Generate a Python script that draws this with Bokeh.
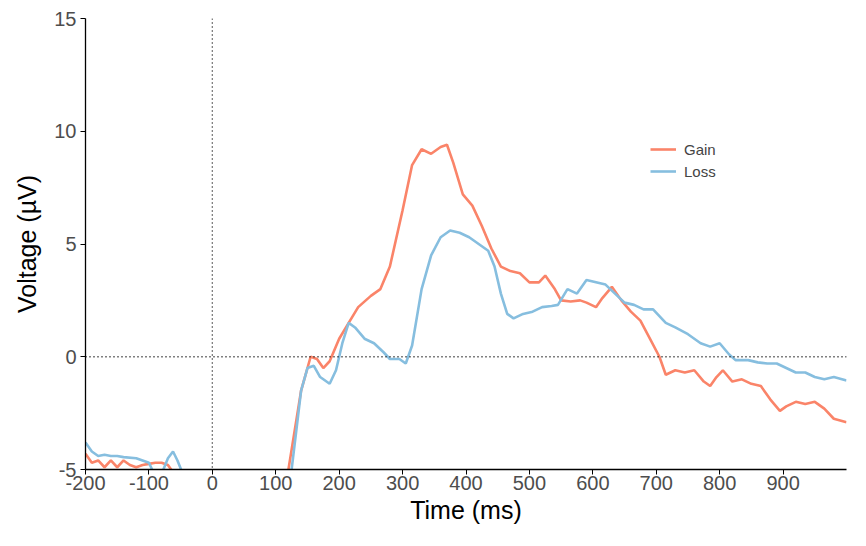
from bokeh.plotting import figure
from bokeh.models import Span, Legend, LegendItem, FixedTicker, Range1d
from bokeh.embed import file_html
from bokeh.resources import INLINE

gain_t = [-200,-190,-180,-170,-160,-150,-140,-130,-120,-110,-100,-90,-80,-70,-60,-50,0,50,100,120,140,155,165,175,185,200,215,230,250,265,280,300,315,330,345,360,370,380,395,410,425,440,455,470,485,500,515,525,540,550,565,580,590,605,615,630,645,660,675,690,705,715,730,745,760,775,785,795,805,820,835,850,865,880,895,905,920,935,950,965,980,1000]
gain_v = [-4.3,-4.7,-4.6,-4.9,-4.6,-4.9,-4.6,-4.8,-4.9,-4.8,-4.75,-4.7,-4.7,-4.8,-5.2,-6,-9,-10,-7,-5,-1.5,0.0,-0.1,-0.5,-0.2,0.8,1.5,2.2,2.7,3.0,4.0,6.5,8.5,9.2,9.0,9.3,9.4,8.6,7.2,6.7,5.8,4.8,4.0,3.8,3.7,3.3,3.3,3.6,3.0,2.5,2.45,2.5,2.4,2.2,2.6,3.1,2.5,2.0,1.6,0.8,0.0,-0.8,-0.6,-0.7,-0.6,-1.1,-1.3,-0.9,-0.6,-1.1,-1.0,-1.2,-1.3,-1.9,-2.4,-2.2,-2.0,-2.1,-2.0,-2.3,-2.75,-2.9]
loss_t = [-200,-190,-180,-170,-160,-150,-140,-120,-110,-100,-90,-80,-70,-62,-55,-45,0,50,100,125,140,150,160,170,185,195,205,215,225,240,255,270,280,295,305,315,330,345,360,375,390,405,420,435,445,455,465,475,490,505,520,535,545,560,575,590,605,620,635,650,665,680,695,715,730,750,770,785,800,815,825,845,860,875,890,905,920,935,950,965,980,1000]
loss_v = [-3.8,-4.2,-4.4,-4.35,-4.4,-4.4,-4.45,-4.5,-4.6,-4.7,-5.3,-5.2,-4.5,-4.2,-4.6,-5.3,-8,-9,-7.5,-5,-1.5,-0.5,-0.4,-0.9,-1.2,-0.6,0.6,1.5,1.3,0.8,0.6,0.2,-0.1,-0.1,-0.3,0.5,3.0,4.5,5.3,5.6,5.5,5.3,5.0,4.7,4.0,2.8,1.9,1.7,1.9,2.0,2.2,2.25,2.3,3.0,2.8,3.4,3.3,3.2,2.8,2.4,2.3,2.1,2.1,1.5,1.3,1.0,0.6,0.45,0.6,0.1,-0.15,-0.15,-0.25,-0.3,-0.3,-0.5,-0.7,-0.7,-0.9,-1.0,-0.9,-1.05]
x_ticks = [-200,-100,0,100,200,300,400,500,600,700,800,900]
y_ticks = [-5,0,5,10,15]

FONT = "Liberation Sans"
p = figure(width=850, height=530, output_backend="svg", toolbar_location=None,
           x_range=Range1d(-200, 1000), y_range=Range1d(-5, 15),
           min_border_left=85, min_border_right=4, min_border_top=18, min_border_bottom=61)
p.outline_line_color = None
p.grid.visible = False
p.background_fill_color = "white"

p.add_layout(Span(location=0, dimension="width", line_dash="1 3", line_color="black", line_width=1.3))
p.add_layout(Span(location=0, dimension="height", line_dash="1 3", line_color="black", line_width=1.3))

r1 = p.line(gain_t, gain_v, line_color="#FA8469", line_width=2.6)
r2 = p.line(loss_t, loss_v, line_color="#86BEDF", line_width=2.6)

leg = Legend(items=[LegendItem(label="Gain", renderers=[r1]), LegendItem(label="Loss", renderers=[r2])],
             location=(565, 288), border_line_color=None, background_fill_alpha=0,
             label_text_font=FONT, label_text_font_size="15px", glyph_width=26,
             spacing=2, label_standoff=8)
p.add_layout(leg, "center")

for ax in (p.xaxis, p.yaxis):
    ax.axis_line_color = "black"
    ax.axis_line_width = 1.3
    ax.major_tick_line_color = "black"
    ax.major_tick_out = 5
    ax.major_tick_in = 0
    ax.minor_tick_line_color = None
    ax.major_label_text_font = FONT
    ax.major_label_text_font_size = "20px"
    ax.major_label_text_color = "#4D4D4D"
    ax.axis_label_text_font = FONT
    ax.axis_label_text_font_size = "25px"
    ax.axis_label_text_font_style = "normal"
    ax.axis_label_text_color = "black"
p.xaxis.ticker = FixedTicker(ticks=x_ticks)
p.yaxis.ticker = FixedTicker(ticks=y_ticks)
p.xaxis.major_label_overrides = {t: str(t) for t in x_ticks}
p.yaxis.major_label_overrides = {t: str(t) for t in y_ticks}
p.xaxis.major_label_standoff = 1
p.yaxis.major_label_standoff = 4
p.xaxis.axis_label = "Time (ms)"
p.yaxis.axis_label = "Voltage (µV)"
p.xaxis.axis_label_standoff = 3
p.yaxis.axis_label_standoff = 10

open("out.html", "w").write(file_html(p, INLINE))
